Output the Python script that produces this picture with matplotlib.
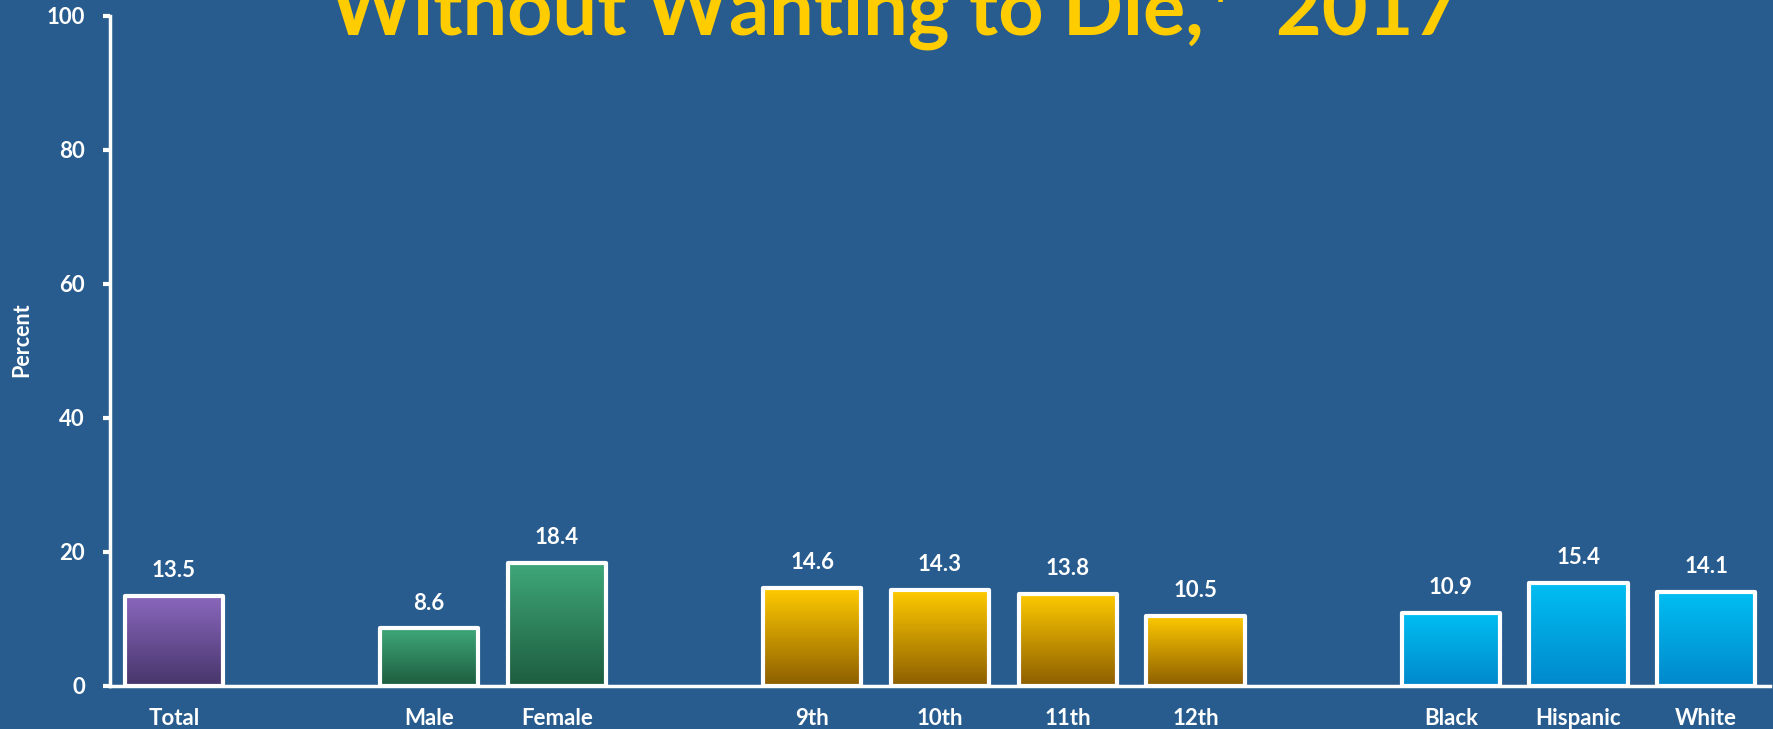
import matplotlib
matplotlib.use("Agg")
import matplotlib.pyplot as plt
import numpy as np
from matplotlib.colors import LinearSegmentedColormap

# data
categories = ["Total", "Male", "Female", "9th", "10th", "11th", "12th",
              "Black", "Hispanic", "White"]
positions = [0, 2, 3, 5, 6, 7, 8, 10, 11, 12]
values = [13.5, 8.6, 18.4, 14.6, 14.3, 13.8, 10.5, 10.9, 15.4, 14.1]
groups = ["total", "sex", "sex", "grade", "grade", "grade", "grade",
          "race", "race", "race"]

BG = "#285C8E"
FG = "white"
TITLE_COLOR = "#FFCC00"
# top colour, bottom colour
GRADIENTS = {
    "total": ("#8A68BE", "#47356A"),
    "sex": ("#3FA87A", "#1D5C3E"),
    "grade": ("#FFCB00", "#8C5E00"),
    "race": ("#00BFF2", "#0088CC"),
}

plt.rcParams["font.family"] = ["Lato", "DejaVu Sans"]
plt.rcParams["font.weight"] = "bold"

fig = plt.figure(figsize=(17.73, 7.29), dpi=100, facecolor=BG)
ax = fig.add_axes([110 / 1773, 43 / 729, 1660 / 1773, 670 / 729])
ax.set_facecolor(BG)

bars = ax.bar(positions, values, width=0.77, color="none", edgecolor="none", zorder=2)

# gradient fill clipped to each bar
grad = np.linspace(1, 0, 256).reshape(-1, 1)
for bar, g in zip(bars, groups):
    top, bottom = GRADIENTS[g]
    cmap = LinearSegmentedColormap.from_list(g, [bottom, top])
    x0, y0 = bar.get_x(), bar.get_y()
    w, h = bar.get_width(), bar.get_height()
    im = ax.imshow(grad, cmap=cmap, aspect="auto", extent=(x0, x0 + w, y0, y0 + h),
                   vmin=0, vmax=1, zorder=2)
    im.set_clip_path(bar)

# white outlines on top
ax.bar(positions, values, width=0.77, color="none", edgecolor=FG,
       linewidth=3, joinstyle="round", zorder=3)

for x, v in zip(positions, values):
    ax.annotate(f"{v:.1f}", (x, v), xytext=(0, 13.5), textcoords="offset points",
                ha="center", va="baseline", color=FG, fontsize=16, fontweight="bold")

ax.set_xlim(-0.5, 12.5)
ax.set_ylim(0, 100)
ax.set_aspect("auto")
ax.set_xticks(positions)
ax.set_xticklabels(categories)
ax.set_yticks([0, 20, 40, 60, 80, 100])

ax.tick_params(axis="x", length=0, pad=16, colors=FG, labelsize=16)
ax.tick_params(axis="y", length=5, width=3, pad=13, colors=FG, labelsize=16)
for lab in ax.get_xticklabels() + ax.get_yticklabels():
    lab.set_fontweight("bold")

for side in ("top", "right"):
    ax.spines[side].set_visible(False)
for side in ("left", "bottom"):
    ax.spines[side].set_color(FG)
    ax.spines[side].set_linewidth(2.5)
ax.spines["bottom"].set_zorder(4)

fig.text(22 / 1773, 1 - 340 / 729, "Percent", rotation=90, ha="center", va="center",
         color=FG, fontsize=15.5, fontweight="bold")

fig.text(895 / 1773, 1 - 35 / 729, "Without Wanting to Die,*  2017", ha="center",
         va="baseline", color=TITLE_COLOR, fontsize=57, fontweight="bold")

fig.savefig("out.png", dpi=100, facecolor=BG)
